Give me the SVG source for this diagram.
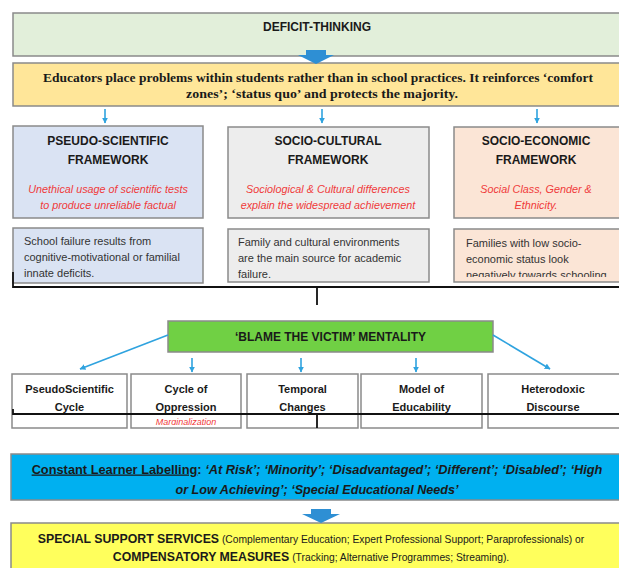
<svg xmlns="http://www.w3.org/2000/svg" width="619" height="568" viewBox="0 0 619 568">
<style>
.box{stroke:#8a8a8a;stroke-width:1.5}
.t{font-family:"Liberation Sans",Arial,sans-serif;fill:#1a1a1a}
.title{font-size:12px;font-weight:bold;text-anchor:middle}
.red{font-size:10.8px;font-style:italic;fill:#f03a3a;text-anchor:middle}
.body{font-size:11px;fill:#333}
.cell{font-size:11px;font-weight:bold;text-anchor:middle}
.serif{font-family:"Liberation Serif","Times New Roman",serif;font-weight:bold;font-size:13px;fill:#1a1a1a;text-anchor:middle}
.conn{stroke:#2fa3df;stroke-width:1.6;fill:none;marker-end:url(#ah)}
.brk{stroke:#111;stroke-width:1.8;fill:none}
.block{fill:#2e8fd4}
</style>
<defs>
<marker id="ah" viewBox="0 0 10 10" refX="9" refY="5" markerWidth="6" markerHeight="6" orient="auto-start-reverse" markerUnits="userSpaceOnUse">
<path d="M0,0 L10,5 L0,10 z" fill="#2fa3df"/>
</marker>
<clipPath id="c3"><rect x="454" y="228" width="165" height="49"/></clipPath>
<clipPath id="cm"><rect x="131" y="414" width="110" height="11"/></clipPath>
</defs>
<rect width="619" height="568" fill="#ffffff"/>

<g id="deficit-thinking">
<rect class="box" x="13" y="13" width="610" height="43" fill="#e2efda"/>
<text class="t title" x="317" y="31">DEFICIT-THINKING</text>
</g>

<g id="educators">
<rect class="box" x="13" y="63" width="610" height="43" fill="#ffe699"/>
<text class="serif" x="318" y="82" textLength="550" lengthAdjust="spacingAndGlyphs">Educators place problems within students rather than in school practices. It reinforces ‘comfort</text>
<text class="serif" x="322" y="98" textLength="272" lengthAdjust="spacingAndGlyphs">zones’; ‘status quo’ and protects the majority.</text>
</g>

<g id="pseudo-scientific">
<rect class="box" x="13" y="126" width="190" height="92" fill="#dae3f3"/>
<text class="t title" x="108" y="145">PSEUDO-SCIENTIFIC</text>
<text class="t title" x="108" y="164">FRAMEWORK</text>
<text class="t red" x="108" y="192.5">Unethical usage of scientific tests</text>
<text class="t red" x="108" y="208.5">to produce unreliable factual</text>
</g>
<g id="pseudo-scientific-detail">
<rect class="box" x="13" y="228" width="190" height="55" fill="#dae3f3"/>
<text class="t body" x="24" y="245">School failure results from</text>
<text class="t body" x="24" y="261">cognitive-motivational or familial</text>
<text class="t body" x="24" y="277">innate deficits.</text>
</g>

<g id="socio-cultural">
<rect class="box" x="228" y="127" width="201" height="91" fill="#ededed"/>
<text class="t title" x="328" y="145">SOCIO-CULTURAL</text>
<text class="t title" x="328" y="164">FRAMEWORK</text>
<text class="t red" x="328" y="192.5">Sociological &amp; Cultural differences</text>
<text class="t red" x="328" y="208.5">explain the widespread achievement</text>
</g>
<g id="socio-cultural-detail">
<rect class="box" x="228" y="229" width="201" height="53" fill="#ededed"/>
<text class="t body" x="238" y="246">Family and cultural environments</text>
<text class="t body" x="238" y="262">are the main source for academic</text>
<text class="t body" x="238" y="278">failure.</text>
</g>

<g id="socio-economic">
<rect class="box" x="454" y="127" width="170" height="91" fill="#fbe5d6"/>
<text class="t title" x="536" y="145">SOCIO-ECONOMIC</text>
<text class="t title" x="536" y="164">FRAMEWORK</text>
<text class="t red" x="536" y="192.5">Social Class, Gender &amp;</text>
<text class="t red" x="536" y="208.5">Ethnicity.</text>
</g>
<g id="socio-economic-detail">
<rect class="box" x="454" y="229" width="170" height="53" fill="#fbe5d6"/>
<g clip-path="url(#c3)">
<text class="t body" x="466" y="247">Families with low socio-</text>
<text class="t body" x="466" y="263">economic status look</text>
<text class="t body" x="466" y="279">negatively towards schooling</text>
</g>
</g>

<g id="blame-the-victim">
<rect class="box" x="168" y="321" width="325" height="31" fill="#70d044"/>
<text class="t title" x="330.5" y="340.5">‘BLAME THE VICTIM’ MENTALITY</text>
</g>

<g id="pseudoscientific-cycle">
<rect class="box" x="12" y="374" width="115" height="54" fill="#ffffff"/>
<text class="t cell" x="69.5" y="393">PseudoScientific</text>
<text class="t cell" x="69.5" y="411">Cycle</text>
</g>
<g id="cycle-of-oppression">
<rect class="box" x="131" y="374" width="110" height="54" fill="#ffffff"/>
<text class="t cell" x="186" y="393">Cycle of</text>
<text class="t cell" x="186" y="411">Oppression</text>
<g clip-path="url(#cm)"><text class="t red" x="186" y="425" style="font-size:9px">Marginalization</text></g>
</g>
<g id="temporal-changes">
<rect class="box" x="247" y="374" width="111" height="54" fill="#ffffff"/>
<text class="t cell" x="302.5" y="393">Temporal</text>
<text class="t cell" x="302.5" y="411">Changes</text>
</g>
<g id="model-of-educability">
<rect class="box" x="361" y="374" width="121" height="54" fill="#ffffff"/>
<text class="t cell" x="421.5" y="393">Model of</text>
<text class="t cell" x="421.5" y="411">Educability</text>
</g>
<g id="heterodoxic-discourse">
<rect class="box" x="488" y="374" width="135" height="54" fill="#ffffff"/>
<text class="t cell" x="553" y="393">Heterodoxic</text>
<text class="t cell" x="553" y="411">Discourse</text>
</g>

<g id="learner-labelling">
<rect class="box" x="11" y="454" width="612" height="46" fill="#00b0f0"/>
<text class="t" x="317" y="473.5" text-anchor="middle" style="font-size:12.8px;font-weight:bold"><tspan text-decoration="underline">Constant Learner Labelling</tspan>: <tspan font-style="italic">‘At Risk’; ‘Minority’; ‘Disadvantaged’; ‘Different’; ‘Disabled’;  ‘High</tspan></text>
<text class="t" x="317" y="493.5" text-anchor="middle" style="font-size:12.6px;font-weight:bold;font-style:italic">or Low Achieving’; ‘Special Educational Needs’</text>
</g>

<g id="support-services">
<rect class="box" x="11" y="523" width="612" height="52" fill="#ffff5c"/>
<text class="t" x="311" y="543" text-anchor="middle"><tspan style="font-size:12.3px;font-weight:bold">SPECIAL SUPPORT SERVICES</tspan><tspan style="font-size:10.3px"> (Complementary Education; Expert Professional Support; Paraprofessionals) or</tspan></text>
<text class="t" x="311" y="561" text-anchor="middle"><tspan style="font-size:12.3px;font-weight:bold">COMPENSATORY MEASURES</tspan><tspan style="font-size:10.3px"> (Tracking; Alternative Programmes; Streaming).</tspan></text>
</g>

<g id="connectors">
<polygon class="block" points="306,50 326,50 326,55 334,55 316,64 298,55 306,55"/>
<line class="conn" x1="105" y1="109" x2="105" y2="123"/>
<line class="conn" x1="322" y1="109" x2="322" y2="123"/>
<line class="conn" x1="537" y1="109" x2="537" y2="123"/>
<path class="brk" d="M13,272 V287 H619 M317,287 V305"/>
<line class="conn" x1="168" y1="335" x2="80" y2="369"/>
<line class="conn" x1="192" y1="358" x2="192" y2="372"/>
<line class="conn" x1="301" y1="358" x2="301" y2="372"/>
<line class="conn" x1="416" y1="358" x2="416" y2="372"/>
<line class="conn" x1="493" y1="335" x2="550" y2="369"/>
<path class="brk" d="M13,409 V414 H619 M317,414 V428"/>
<polygon class="block" points="311,509 331,509 331,514 340,514 321,523 302,514 311,514"/>
</g>
</svg>
